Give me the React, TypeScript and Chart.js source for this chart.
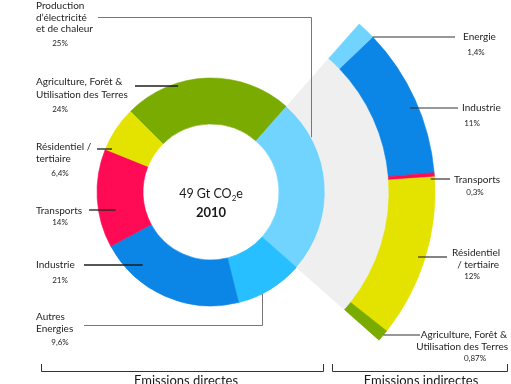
import React, { useEffect, useRef } from "react";
import { Chart, registerables } from "chart.js";

Chart.register(...registerables);

// Direct emissions by sector (share of 49 Gt CO2e, 2010)
const directCategories = [
  "Agriculture, Forêt & Utilisation des Terres",
  "Production d’électricité et de chaleur",
  "Autres Energies",
  "Industrie",
  "Transports",
  "Résidentiel / tertiaire",
];
const directValues = [24, 25, 9.6, 21, 14, 6.4];
const directColors = ["#7aab00", "#70d4ff", "#27bfff", "#0b85e6", "#ff0a55", "#e4e300"];

// Indirect emissions: electricity & heat reallocated to end-use sectors
const indirectCategories = [
  "Energie",
  "Industrie",
  "Transports",
  "Résidentiel / tertiaire",
  "Agriculture, Forêt & Utilisation des Terres",
];
const indirectValues = [1.4, 11, 0.3, 12, 0.87];
const indirectColors = ["#70d4ff", "#0b85e6", "#ff0a55", "#e4e300", "#7aab00"];

const centerTitle = ["49 Gt CO", "2", "e"];
const centerYear = "2010";
const footerLabels = ["Emissions directes", "Emissions indirectes"];

const pct = (v: number) => `${String(v).replace(".", ",")}%`;

// Ring geometry (pixels)
const CENTER_X = 211;
const CENTER_Y = 195;
const OUTER_RADIUS = 224;
const HOLE_RADIUS = 68;
const RING_WEIGHTS = { indirect: 46, link: 64, direct: 46 };
const START_ANGLE = -45;

const totalDirect = directValues.reduce((a, b) => a + b, 0);
const linkRotation = START_ANGLE + (360 * directValues[0]) / totalDirect;
const linkCircumference = (360 * directValues[1]) / totalDirect;

const FONT = "Lato, 'DejaVu Sans', sans-serif";

// Label layout for the direct ring (left column) — index refers to directValues
type LeftLabel = {
  index: number;
  lines: string[];
  ys: number[];
  pctY: number;
  lineY: number;
  lineX0: number;
  inset?: number;
  elbowX?: number;
};
const leftLabels: LeftLabel[] = [
  { index: 1, lines: ["Production", "d’électricité", "et de chaleur"], ys: [6, 17.5, 29], pctY: 43, lineY: 17, lineX0: 98, elbowX: 311 },
  { index: 0, lines: ["Agriculture, Forêt &", "Utilisation des Terres"], ys: [82, 95], pctY: 109, lineY: 86, lineX0: 135, inset: 3 },
  { index: 5, lines: ["Résidentiel /", "tertiaire"], ys: [147, 159], pctY: 173, lineY: 149, lineX0: 97, inset: 6 },
  { index: 4, lines: ["Transports"], ys: [211], pctY: 222, lineY: 210, lineX0: 89, inset: 17 },
  { index: 3, lines: ["Industrie"], ys: [265], pctY: 280, lineY: 265, lineX0: 84, inset: 14 },
  { index: 2, lines: ["Autres", "Energies"], ys: [317, 329], pctY: 342, lineY: 325, lineX0: 84, elbowX: 262 },
];

type RightLabel = {
  index: number;
  lines: { text: string; x: number; y: number; align: CanvasTextAlign }[];
  pctX: number;
  pctY: number;
  lineY: number;
  lineX1: number;
  inset: number;
};
const rightLabels: RightLabel[] = [
  { index: 0, lines: [{ text: "Energie", x: 463, y: 37, align: "left" }], pctX: 476, pctY: 52, lineY: 37, lineX1: 455, inset: 0 },
  { index: 1, lines: [{ text: "Industrie", x: 462, y: 108, align: "left" }], pctX: 472, pctY: 123, lineY: 108, lineX1: 458, inset: 8 },
  { index: 2, lines: [{ text: "Transports", x: 454, y: 180, align: "left" }], pctX: 475, pctY: 192, lineY: 179, lineX1: 450, inset: 4 },
  {
    index: 3,
    lines: [
      { text: "Résidentiel", x: 452, y: 253, align: "left" },
      { text: "/ tertiaire", x: 499, y: 265, align: "right" },
    ],
    pctX: 472, pctY: 276, lineY: 257, lineX1: 447, inset: 7,
  },
  {
    index: 4,
    lines: [
      { text: "Agriculture, Forêt &", x: 507, y: 335, align: "right" },
      { text: "Utilisation des Terres", x: 508, y: 347, align: "right" },
    ],
    pctX: 475, pctY: 358, lineY: 335, lineX1: 420, inset: 0,
  },
];

const annotations = {
  id: "annotations",
  afterDraw(chart: Chart) {
    const ctx = chart.ctx;
    const directArc: any = chart.getDatasetMeta(2).data[0];
    const indirectArc: any = chart.getDatasetMeta(0).data[0];
    const cx = directArc.x;
    const cy = directArc.y;
    const rDirect = directArc.outerRadius;
    const rIndirect = indirectArc.outerRadius;

    ctx.save();
    ctx.textBaseline = "middle";

    // left column
    leftLabels.forEach((l) => {
      ctx.fillStyle = "#1e1e1e";
      ctx.font = `10px ${FONT}`;
      ctx.textAlign = "left";
      l.lines.forEach((t, i) => ctx.fillText(t, 36, l.ys[i]));
      ctx.font = `8px ${FONT}`;
      ctx.textAlign = "center";
      ctx.fillText(pct(directValues[l.index]), 60, l.pctY);

      ctx.beginPath();
      if (l.elbowX !== undefined) {
        const dx = l.elbowX - cx;
        const dy = Math.sqrt(rDirect * rDirect - dx * dx);
        const yEnd = l.lineY < cy ? cy - dy : cy + dy;
        ctx.strokeStyle = "#777";
        ctx.lineWidth = 1;
        ctx.moveTo(l.lineX0, l.lineY + 0.5);
        ctx.lineTo(l.elbowX + 0.5, l.lineY + 0.5);
        ctx.lineTo(l.elbowX + 0.5, yEnd);
      } else {
        const r = rDirect - (l.inset || 0);
        const dy = l.lineY - cy;
        const xEnd = cx - Math.sqrt(r * r - dy * dy);
        ctx.strokeStyle = "#1e1e1e";
        ctx.lineWidth = 1.3;
        ctx.moveTo(l.lineX0, l.lineY);
        ctx.lineTo(xEnd, l.lineY);
      }
      ctx.stroke();
    });

    // right column
    rightLabels.forEach((l) => {
      ctx.fillStyle = "#1e1e1e";
      ctx.font = `10px ${FONT}`;
      l.lines.forEach((t) => {
        ctx.textAlign = t.align;
        ctx.fillText(t.text, t.x, t.y);
      });
      ctx.font = `8px ${FONT}`;
      ctx.textAlign = "center";
      ctx.fillText(pct(indirectValues[l.index]), l.pctX, l.pctY);

      const r = rIndirect - l.inset;
      const dy = l.lineY - cy;
      const xStart = cx + Math.sqrt(r * r - dy * dy);
      ctx.beginPath();
      ctx.strokeStyle = "#333";
      ctx.lineWidth = 1.2;
      ctx.moveTo(xStart, l.lineY);
      ctx.lineTo(l.lineX1, l.lineY);
      ctx.stroke();
    });

    // centre title with subscript
    ctx.fillStyle = "#1a1a1a";
    ctx.textAlign = "left";
    const big = `12.5px ${FONT}`;
    const small = `8px ${FONT}`;
    ctx.font = big;
    const w1 = ctx.measureText(centerTitle[0]).width;
    const w3 = ctx.measureText(centerTitle[2]).width;
    ctx.font = small;
    const w2 = ctx.measureText(centerTitle[1]).width;
    let x = cx - (w1 + w2 + w3) / 2;
    const ty = cy + 2;
    ctx.font = big;
    ctx.fillText(centerTitle[0], x, ty);
    x += w1;
    ctx.font = small;
    ctx.fillText(centerTitle[1], x, ty + 4);
    x += w2;
    ctx.font = big;
    ctx.fillText(centerTitle[2], x, ty);
    ctx.font = `bold 13px ${FONT}`;
    ctx.textAlign = "center";
    ctx.fillText(centerYear, cx, cy + 21);

    // footer brackets
    ctx.strokeStyle = "#333";
    ctx.lineWidth = 1;
    const bracket = (x0: number, x1: number) => {
      ctx.beginPath();
      ctx.moveTo(x0 + 0.5, 364);
      ctx.lineTo(x0 + 0.5, 371.5);
      ctx.lineTo(x1 + 0.5, 371.5);
      ctx.lineTo(x1 + 0.5, 364);
      ctx.stroke();
    };
    bracket(41, 323);
    bracket(332, 507);
    ctx.fillStyle = "#1a1a1a";
    ctx.font = `13px ${FONT}`;
    ctx.textBaseline = "alphabetic";
    ctx.textAlign = "center";
    ctx.fillText(footerLabels[0], 186, 385);
    ctx.fillText(footerLabels[1], 421, 385);

    ctx.restore();
  },
};

export default function App() {
  const ref = useRef<HTMLCanvasElement | null>(null);

  useEffect(() => {
    if (!ref.current) return;
    const W = 511;
    const H = 384;
    const chart = new Chart(ref.current, {
      type: "doughnut",
      data: {
        labels: directCategories,
        datasets: [
          {
            label: "Emissions indirectes",
            data: indirectValues,
            backgroundColor: indirectColors,
            borderColor: indirectColors,
            borderWidth: 0.6,
            weight: RING_WEIGHTS.indirect,
            rotation: linkRotation,
            circumference: linkCircumference,
          } as any,
          {
            label: "lien",
            data: [directValues[1]],
            backgroundColor: ["#efefef"],
            borderColor: ["#efefef"],
            borderWidth: 0.6,
            weight: RING_WEIGHTS.link,
            rotation: linkRotation,
            circumference: linkCircumference,
          } as any,
          {
            label: "Emissions directes",
            data: directValues,
            backgroundColor: directColors,
            borderColor: directColors,
            borderWidth: 0.6,
            weight: RING_WEIGHTS.direct,
            rotation: START_ANGLE,
            circumference: 360,
          } as any,
        ],
      },
      options: {
        responsive: false,
        maintainAspectRatio: false,
        animation: false,
        events: [],
        radius: OUTER_RADIUS,
        cutout: `${(HOLE_RADIUS / OUTER_RADIUS) * 100}%`,
        layout: {
          padding: {
            left: 0,
            top: 0,
            right: W - 2 * CENTER_X,
            bottom: H - 2 * CENTER_Y,
          },
        },
        plugins: {
          legend: { display: false },
          tooltip: { enabled: false },
        },
      } as any,
      plugins: [annotations],
    });
    return () => chart.destroy();
  }, []);

  return (
    <div style={{ position: "fixed", left: 0, top: 0, width: 511, height: 384, background: "#fff" }}>
      <canvas ref={ref} width={511} height={384} style={{ display: "block" }} />
    </div>
  );
}
